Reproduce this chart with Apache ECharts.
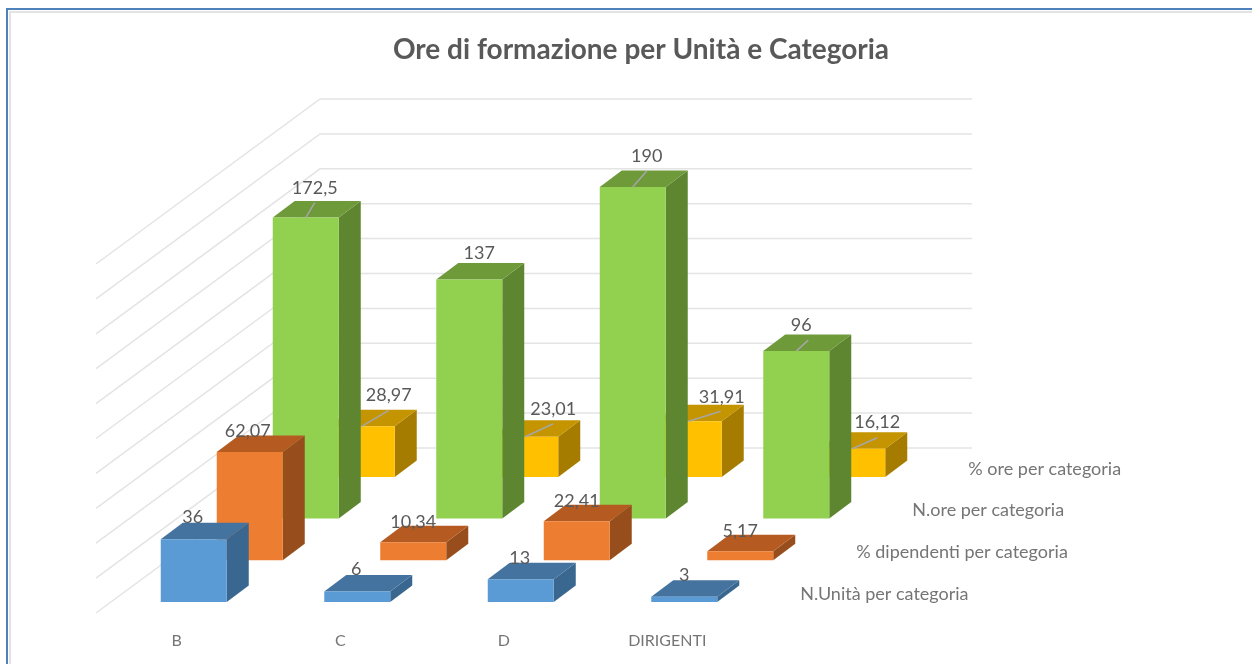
<!DOCTYPE html>
<html><head><meta charset="utf-8">
<style>html,body{margin:0;padding:0;background:#fff}#c{width:1252px;height:664px}</style>
<script src="https://cdn.jsdelivr.net/npm/echarts@6/dist/echarts.min.js"></script>
</head><body><div id="c"></div>
<script>
// ---- data ----
const titleText = 'Ore di formazione per Unità e Categoria';
const categories = ['B', 'C', 'D', 'DIRIGENTI'];
const seriesNames = ['N.Unità per categoria', '% dipendenti per categoria', 'N.ore per categoria', '% ore per categoria'];
const unitaValues = [36, 6, 13, 3];
const dipendentiValues = [62.07, 10.34, 22.41, 5.17];
const oreValues = [172.5, 137, 190, 96];
const orePctValues = [28.97, 23.01, 31.91, 16.12];
const gridTicks = [0, 20, 40, 60, 80, 100, 120, 140, 160, 180, 200];

// ---- styling / layout ----
const allValues = [unitaValues, dipendentiValues, oreValues, orePctValues];
const palette = [
  {front: '#5B9BD5', top: '#44739F', side: '#3A6790'},
  {front: '#ED7D31', top: '#B55A21', side: '#984E1C'},
  {front: '#92D050', top: '#6E9A3A', side: '#5E8631'},
  {front: '#FFC000', top: '#C49500', side: '#A67C00'}
];
const ROW_DX = 56, ROW_DY = -41.7;     // shift between depth rows
const EXT_DX = 22, EXT_DY = -16.5;     // bar depth extrusion
const BAR_W = 66;
// label offset from the centre of the bar's front top edge, per row/category
const labelNudge = [
  [[-1,-22],[-1,-22],[-1,-21],[0,-22]],
  [[-2,-21],[0,-20],[0,-20],[0,-20]],
  [[9,-29],[10,-26],[14,-31],[5,-26]],
  [[27,-31],[28,-28],[33,-24],[25,-27]]
];
// leader line end relative to the same point (null = none)
const leaderEnd = [
  [null,null,null,null],
  [null,null,null,null],
  [[9,-15],null,[14,-16],[12,-11]],
  [[27,-16],[28,-13],[32,-10],[25,-11]]
];
const FONT = 'Lato, "Open Sans", sans-serif';
const poly = (pts, fill) => ({type: 'polygon', shape: {points: pts}, style: {fill: fill}});

function barRenderer(row) {
  return function (params, api) {
    const cat = api.value(0), val = api.value(1);
    const topP = api.coord([cat, val]), baseP = api.coord([cat, 0]);
    const ox = ROW_DX * row, oy = ROW_DY * row;
    const cx = topP[0] + ox, yT = topP[1] + oy, yB = baseP[1] + oy;
    const xL = cx - BAR_W / 2, xR = cx + BAR_W / 2;
    const c = palette[row];
    const kids = [
      poly([[xR, yT], [xR + EXT_DX, yT + EXT_DY], [xR + EXT_DX, yB + EXT_DY], [xR, yB]], c.side),
      poly([[xL, yT], [xL + EXT_DX, yT + EXT_DY], [xR + EXT_DX, yT + EXT_DY], [xR, yT]], c.top),
      {type: 'rect', shape: {x: xL, y: yT, width: BAR_W, height: yB - yT}, style: {fill: c.front}}
    ];
    const lead = leaderEnd[row][cat];
    if (lead) kids.push({type: 'line', shape: {x1: cx, y1: yT, x2: cx + lead[0], y2: yT + lead[1]},
      style: {stroke: '#a6a6a6', lineWidth: 1.5}});
    const n = labelNudge[row][cat];
    kids.push({type: 'text', x: cx + n[0], y: yT + n[1], style: {
      text: String(val).replace('.', ','), font: '18px ' + FONT, fill: '#595959',
      align: 'center', verticalAlign: 'middle'}});
    if (cat === categories.length - 1) {
      kids.push({type: 'text', x: xL + 149, y: yB - 8, style: {
        text: seriesNames[row], font: '18px ' + FONT, fill: '#757575',
        align: 'left', verticalAlign: 'middle'}});
    }
    return {type: 'group', children: kids};
  };
}

const wallSeries = {
  type: 'custom', silent: true, name: 'griglia',
  data: gridTicks.map(v => [0, v]),
  encode: {x: 0, y: 1},
  renderItem: function (params, api) {
    const y = api.coord([0, api.value(1)])[1];
    const left = params.coordSys.x;
    return {type: 'polyline',
      shape: {points: [[left - 16, y + 11], [left + 208, y - 154], [left + 860, y - 154]]},
      style: {fill: 'none', stroke: '#e4e4e4', lineWidth: 1.5}};
  }
};

const barSeries = [3, 2, 1, 0].map(row => ({
  type: 'custom', name: seriesNames[row], silent: true,
  renderItem: barRenderer(row),
  data: allValues[row].map((v, i) => [i, v]),
  encode: {x: 0, y: 1}
}));

const chart = echarts.init(document.getElementById('c'), null, {renderer: 'canvas'});
chart.setOption({
  animation: false,
  backgroundColor: '#fff',
  title: {text: titleText, left: 636, top: 31, textAlign: 'center',
    textStyle: {fontFamily: FONT, fontSize: 28, fontWeight: 'bold', color: '#595959'}},
  graphic: [
    {type: 'rect', z: 0, shape: {x: 10, y: 12, width: 1300, height: 700}, style: {fill: 'none', stroke: '#e3e3e3', lineWidth: 2}},
    {type: 'rect', z: 0, shape: {x: 7, y: 9, width: 1300, height: 700}, style: {fill: 'none', stroke: '#4F81BD', lineWidth: 2}}
  ],
  grid: {left: 112, width: 654, top: 253, height: 349},
  xAxis: {type: 'category', data: categories, axisLine: {show: false}, axisTick: {show: false},
    axisLabel: {margin: 31, padding: [0, 34, 0, 0], fontFamily: FONT, fontSize: 16, color: '#757575', interval: 0}},
  yAxis: {type: 'value', min: 0, max: 200, interval: 20, show: false, splitLine: {show: false}},
  series: [wallSeries].concat(barSeries)
});
</script></body></html>
